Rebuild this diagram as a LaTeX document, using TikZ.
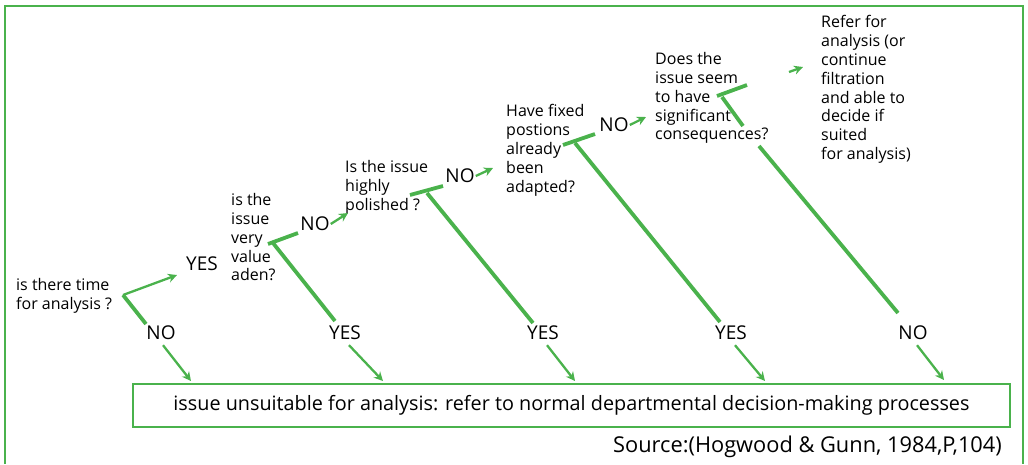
\documentclass[tikz,border=0pt]{standalone}
\usepackage{fontspec}
\setmainfont{Open Sans}
\usetikzlibrary{arrows.meta}
\definecolor{leafgreen}{RGB}{74,178,76}
\tikzset{
  stem/.style={draw=leafgreen, line width=3.8pt},
  twig/.style={draw=leafgreen, line width=2.3pt, -{Stealth[length=9pt,width=9pt]}},
  question/.style={anchor=north west, align=left, inner sep=0pt, font=\fontsize{16}{18.9}\selectfont},
  answer/.style={inner sep=1pt, font=\fontsize{19}{22}\selectfont},
}

\begin{document}
\begin{tikzpicture}[x=1pt,y=-1pt]
\useasboundingbox (0,0) rectangle (1028,464);
\draw[leafgreen, line width=2.5pt] (5,464) -- (5,6) -- (1023,6) -- (1023,464);

% branch points and ends of the stems
\coordinate (v1) at (123,295);
\coordinate (v2) at (273,243);
\coordinate (v3) at (427,193);
\coordinate (v4) at (575,143);
\coordinate (v5) at (722,97);
\coordinate (e1) at (146,324);
\coordinate (e2) at (335,321);
\coordinate (e3) at (533,323);
\coordinate (e4) at (720,322);
\coordinate (e5) at (898,313);
\coordinate (g5a) at (743,126);
\coordinate (g5b) at (759,146);

\draw[stem] (v1) -- (e1);
\draw[stem] (v2) -- (e2);
\draw[stem] (v3) -- (e3);
\draw[stem] (v4) -- (e4);
\draw[stem] (v5) -- (g5a);
\draw[stem] (g5b) -- (e5);
\draw[stem] (268,244) -- (298,233);
\draw[stem] (410,195) -- (443,186);
\draw[stem] (563,145) -- (595,134);
\draw[stem] (717,96) -- (747,85);

% questions
\node[question] (q1) at (16,278) {is there time\\for analysis ?};
\node[question] (q2) at (231,193) {is the\\issue\\very\\value\\aden?};
\node[question] (q3) at (345,160) {Is the issue\\highly\\polished ?};
\node[question] (q4) at (506,104) {Have fixed\\postions\\already\\been\\adapted?};
\node[question] (q5) at (655,52) {Does the\\issue seem\\to have\\significant\\consequences?};
\node[question] (q6) at (821,15) {Refer for\\analysis (or\\continue\\filtration\\and able to\\decide if\\suited\\for analysis)};

% answers
\node[answer] (yes1) at (202,264) {YES};
\node[answer] (no2) at (315,224) {NO};
\node[answer] (no3) at (460,176) {NO};
\node[answer] (no4) at (614,125) {NO};
\node[answer] (no1) at (161,333) {NO};
\node[answer] (yes2) at (345,333) {YES};
\node[answer] (yes3) at (543,333) {YES};
\node[answer] (yes4) at (731,333) {YES};
\node[answer] (no5) at (913,333) {NO};

\draw[twig] (v1) -- (177,275);
\draw[twig] (no2.east) -- (348,213);
\draw[twig] (no3.east) -- (493,168);
\draw[twig] (no4.east) -- (646,117);
\draw[twig] (789,72) -- (803,67);

% outcome
\node[draw=leafgreen, line width=2.2pt, minimum width=877pt, minimum height=43pt, inner sep=0pt,
      font=\fontsize{19.8}{23}\selectfont] (out) at (571.5,405.5)
  {issue unsuitable for analysis: refer to normal departmental decision-making processes};
\coordinate (a1) at (191,381);
\coordinate (a2) at (383,381);
\coordinate (a3) at (575,381);
\coordinate (a4) at (765,381);
\coordinate (a5) at (944,380);
\draw[twig] ([xshift=2pt,yshift=-4pt]no1.south) -- (a1);
\draw[twig] ([xshift=4pt,yshift=-4pt]yes2.south) -- (a2);
\draw[twig] ([xshift=4pt,yshift=-4pt]yes3.south) -- (a3);
\draw[twig] ([xshift=4pt,yshift=-4pt]yes4.south) -- (a4);
\draw[twig] ([xshift=4pt,yshift=-4pt]no5.south) -- (a5);

\node[anchor=east, inner sep=0pt, font=\fontsize{21.8}{24}\selectfont] (src) at (1002,447) {Source:(Hogwood \& Gunn, 1984,P,104)};
\end{tikzpicture}
\end{document}
